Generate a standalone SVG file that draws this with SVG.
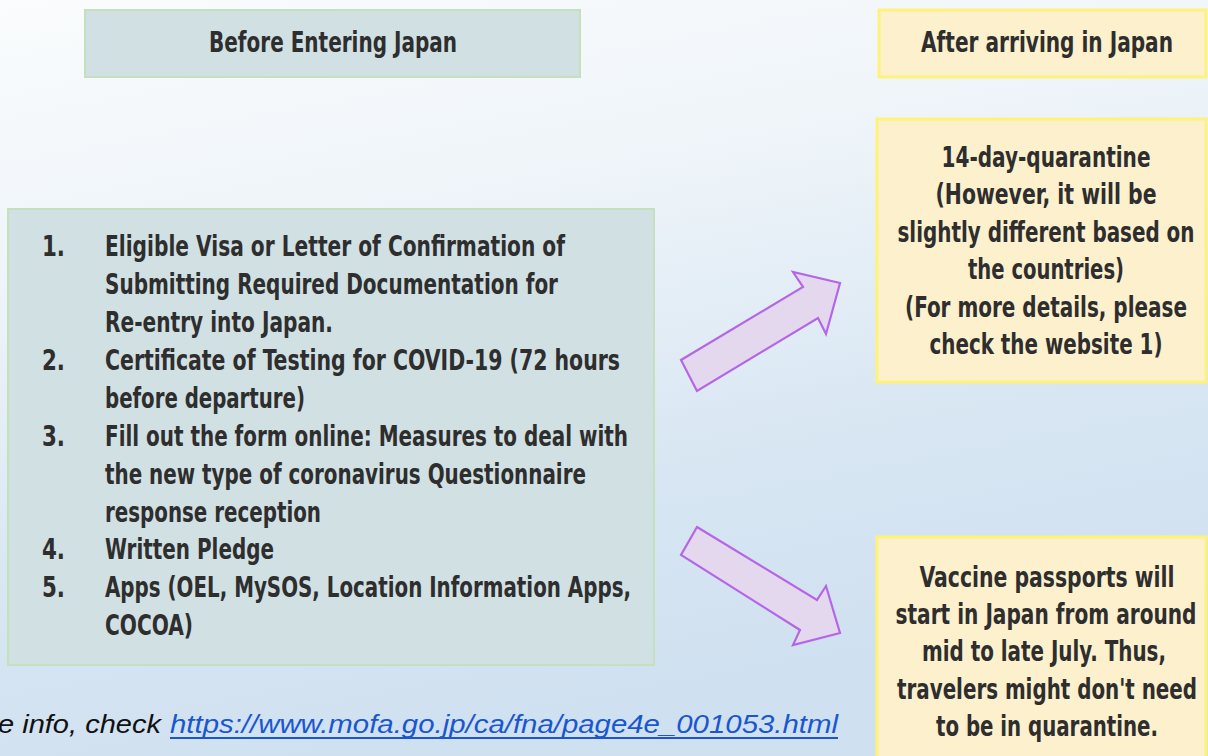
<svg xmlns="http://www.w3.org/2000/svg" width="1208" height="756" viewBox="0 0 1208 756">
<defs>
<linearGradient id="bg" x1="0" y1="0" x2="0.3" y2="1">
<stop offset="0" stop-color="#fafcfd"/>
<stop offset="0.35" stop-color="#eef4f9"/>
<stop offset="0.7" stop-color="#d9e7f3"/>
<stop offset="1" stop-color="#cfe0f0"/>
</linearGradient>
<style>
.blue{fill:#d1e0e3;stroke:#c5e0bd;stroke-width:2}
.yel{fill:#fdf0cd;stroke:#fff27a;stroke-width:3}
.t{font-family:"Liberation Sans Narrow","DejaVu Sans Condensed","Liberation Sans",sans-serif;font-weight:bold;font-size:29px;fill:#2e2e2e}
.c{text-anchor:middle}
.arr{fill:#e3d8ee;stroke:#b565e8;stroke-width:2.2;stroke-linejoin:miter}
.foot{font-family:"Liberation Sans",Arial,sans-serif;font-style:italic;font-size:26px}
</style>
</defs>
<rect width="1208" height="756" fill="url(#bg)"/>

<g id="before-header">
<rect class="blue" x="85" y="10" width="495" height="67"/>
<text class="t c" x="333" y="52" textLength="248" lengthAdjust="spacingAndGlyphs">Before Entering Japan</text>
</g>

<g id="after-header">
<rect class="yel" x="879" y="10" width="327" height="67"/>
<text class="t c" x="1047" y="52" textLength="252" lengthAdjust="spacingAndGlyphs">After arriving in Japan</text>
</g>

<g id="before-list">
<rect class="blue" x="8" y="209" width="646" height="456"/>
<g class="t">
<text x="42" y="256" textLength="23" lengthAdjust="spacingAndGlyphs">1.</text>
<text x="105" y="256" textLength="460" lengthAdjust="spacingAndGlyphs">Eligible Visa or Letter of Confirmation of</text>
<text x="105" y="294" textLength="453" lengthAdjust="spacingAndGlyphs">Submitting Required Documentation for</text>
<text x="105" y="332" textLength="228" lengthAdjust="spacingAndGlyphs">Re-entry into Japan.</text>
<text x="42" y="370" textLength="23" lengthAdjust="spacingAndGlyphs">2.</text>
<text x="105" y="370" textLength="515" lengthAdjust="spacingAndGlyphs">Certificate of Testing for COVID-19 (72 hours</text>
<text x="105" y="408" textLength="200" lengthAdjust="spacingAndGlyphs">before departure)</text>
<text x="42" y="446" textLength="23" lengthAdjust="spacingAndGlyphs">3.</text>
<text x="105" y="446" textLength="523" lengthAdjust="spacingAndGlyphs">Fill out the form online: Measures to deal with</text>
<text x="105" y="484" textLength="481" lengthAdjust="spacingAndGlyphs">the new type of coronavirus Questionnaire</text>
<text x="105" y="522" textLength="216" lengthAdjust="spacingAndGlyphs">response reception</text>
<text x="42" y="559" textLength="23" lengthAdjust="spacingAndGlyphs">4.</text>
<text x="105" y="559" textLength="169" lengthAdjust="spacingAndGlyphs">Written Pledge</text>
<text x="42" y="597" textLength="23" lengthAdjust="spacingAndGlyphs">5.</text>
<text x="105" y="597" textLength="526" lengthAdjust="spacingAndGlyphs">Apps (OEL, MySOS, Location Information Apps,</text>
<text x="105" y="635" textLength="88" lengthAdjust="spacingAndGlyphs">COCOA)</text>
</g>
</g>

<g id="quarantine">
<rect class="yel" x="877" y="119" width="329" height="263"/>
<g class="t c">
<text x="1046" y="167" textLength="209" lengthAdjust="spacingAndGlyphs">14-day-quarantine</text>
<text x="1046" y="204" textLength="221" lengthAdjust="spacingAndGlyphs">(However, it will be</text>
<text x="1046" y="242" textLength="297" lengthAdjust="spacingAndGlyphs">slightly different based on</text>
<text x="1046" y="279" textLength="156" lengthAdjust="spacingAndGlyphs">the countries)</text>
<text x="1046" y="317" textLength="282" lengthAdjust="spacingAndGlyphs">(For more details, please</text>
<text x="1046" y="354" textLength="233" lengthAdjust="spacingAndGlyphs">check the website 1)</text>
</g>
</g>

<g id="vaccine">
<rect class="yel" x="877" y="537" width="329" height="230"/>
<g class="t c">
<text x="1047" y="587" textLength="255" lengthAdjust="spacingAndGlyphs">Vaccine passports will</text>
<text x="1046" y="624" textLength="301" lengthAdjust="spacingAndGlyphs">start in Japan from around</text>
<text x="1044" y="661" textLength="244" lengthAdjust="spacingAndGlyphs">mid to late July. Thus,</text>
<text x="1047" y="699" textLength="300" lengthAdjust="spacingAndGlyphs">travelers might don't need</text>
<text x="1047" y="736" textLength="222" lengthAdjust="spacingAndGlyphs">to be in quarantine.</text>
</g>
</g>

<g id="connectors">
<polygon class="arr" points="681,360 803,287 793,272 840,283 826,334 818,318 697,391"/>
<polygon class="arr" points="697,527 817,600 826,586 840,633 793,645 800,630 681,555"/>
</g>

<g id="footer">
<text class="foot" x="-2" y="733" fill="#111" textLength="163" lengthAdjust="spacingAndGlyphs">e info, check</text>
<text class="foot" x="170" y="733" fill="#1a57cf" textLength="668" lengthAdjust="spacingAndGlyphs">https://www.mofa.go.jp/ca/fna/page4e_001053.html</text>
<line x1="170" y1="738" x2="838" y2="738" stroke="#1a57cf" stroke-width="2"/>
</g>
</svg>
